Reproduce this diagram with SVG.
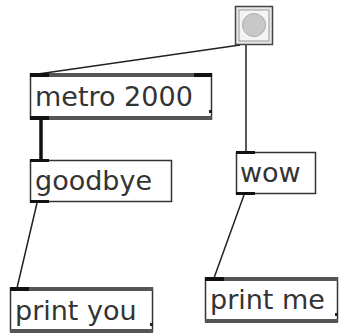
<svg xmlns="http://www.w3.org/2000/svg" width="340" height="335" viewBox="0 0 340 335">
<style>
.t{font-family:"DejaVu Sans",Verdana,sans-serif;font-size:27px;fill:#333}
.obj{fill:#fff;stroke:#333;stroke-width:1.5}
.bar{fill:#555}
.io{fill:#111}
.h{fill:#222}
.c{stroke:#222;stroke-width:1.5;fill:none}
.ct{stroke:#111;stroke-width:3.5;fill:none}
</style>
<rect width="340" height="335" fill="#fff"/>
<g id="connectors">
<line class="c" x1="240" y1="45" x2="38" y2="74"/>
<line class="c" x1="246" y1="45" x2="246" y2="153"/>
<line class="ct" x1="41" y1="120" x2="41" y2="161"/>
<line class="c" x1="37" y1="203" x2="17" y2="288"/>
<line class="c" x1="244" y1="195" x2="214" y2="278"/>
</g>
<g id="bang">
<rect x="235.5" y="6.5" width="37" height="38" fill="#e8e8e8" stroke="#444" stroke-width="1.5"/>
<rect x="239" y="10" width="30" height="31" fill="#f4f4f4" stroke="#999" stroke-width="1"/>
<circle cx="254" cy="25" r="11.5" fill="#c8c8c8" stroke="#aaa" stroke-width="1"/>
</g>
<g id="metro">
<rect class="obj" x="30.5" y="74" width="181" height="45"/>
<rect class="bar" x="30" y="73" width="182" height="4"/>
<rect class="bar" x="30" y="116" width="182" height="4"/>
<rect class="io" x="30" y="73" width="19" height="4"/>
<rect class="io" x="194" y="73" width="18" height="4"/>
<rect class="io" x="30" y="116" width="19" height="4"/>
<rect class="h" x="209" y="110" width="3" height="3"/>
<text class="t" x="35" y="106">metro 2000</text>
</g>
<g id="goodbye">
<rect class="obj" x="30.5" y="160.5" width="141" height="41"/>
<rect class="io" x="30" y="159" width="19" height="3"/>
<rect class="io" x="30" y="200" width="19" height="3"/>
<text class="t" x="35" y="190">goodbye</text>
</g>
<g id="wow">
<rect class="obj" x="236.5" y="152.5" width="79" height="41"/>
<rect class="io" x="236" y="151" width="19" height="3"/>
<rect class="io" x="236" y="192" width="19" height="3"/>
<text class="t" x="240" y="182">wow</text>
</g>
<g id="printyou">
<rect class="obj" x="10.5" y="288" width="142" height="43"/>
<rect class="bar" x="10" y="287" width="143" height="4"/>
<rect class="bar" x="10" y="329" width="143" height="4"/>
<rect class="io" x="10" y="287" width="19" height="4"/>
<rect class="h" x="150" y="323" width="3" height="3"/>
<text class="t" x="15" y="320">print you</text>
</g>
<g id="printme">
<rect class="obj" x="205.5" y="278" width="132" height="43"/>
<rect class="bar" x="205" y="277" width="133" height="4"/>
<rect class="bar" x="205" y="319" width="133" height="4"/>
<rect class="io" x="205" y="277" width="19" height="4"/>
<rect class="h" x="335" y="313" width="3" height="3"/>
<text class="t" x="210" y="309">print me</text>
</g>
</svg>
